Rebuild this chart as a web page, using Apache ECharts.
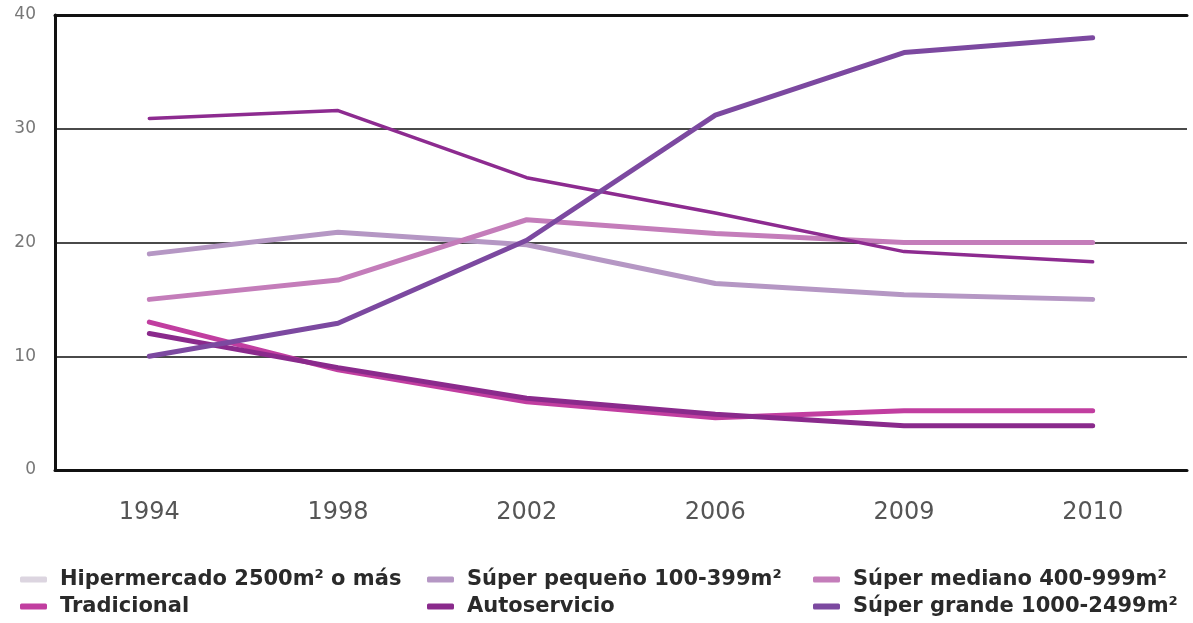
<!DOCTYPE html>
<html>
<head>
<meta charset="utf-8">
<script src="https://cdn.jsdelivr.net/npm/echarts@6/dist/echarts.min.js"></script>
<style>
  html, body { margin: 0; padding: 0; background: #fff; }
  #chart { width: 1193px; height: 623px; }
</style>
</head>
<body>
<div id="chart"></div>
<script>
// Years on the horizontal axis
const years = ['1994', '1998', '2002', '2006', '2009', '2010'];

// Share per store format (%)
const hipermercado = [30.9, 31.6, 25.7, 22.6, 19.2, 18.3];
const superPequeno = [19.0, 20.9, 19.8, 16.4, 15.4, 15.0];
const superMediano = [15.0, 16.7, 22.0, 20.8, 20.0, 20.0];
const tradicional  = [13.0, 8.8, 6.0, 4.6, 5.2, 5.2];
const autoservicio = [12.0, 9.0, 6.3, 4.9, 3.9, 3.9];
const superGrande  = [10.0, 12.9, 20.2, 31.2, 36.7, 38.0];

// Value axis ticks
const yMin = 0, yMax = 40, yStep = 10;

const names = {
  hiper: 'Hipermercado 2500m² o más',
  peq: 'Súper pequeño 100-399m²',
  med: 'Súper mediano 400-999m²',
  trad: 'Tradicional',
  auto: 'Autoservicio',
  grande: 'Súper grande 1000-2499m²'
};

const colors = {
  hiperLegend: '#dcd5e0',
  hiperLine: '#8d2b90',
  peq: '#b597c4',
  med: '#c47dba',
  trad: '#c13ea0',
  auto: '#8a2a8c',
  grande: '#7c49a0'
};

const FONT = 'DejaVu Sans';

function line(name, data, color, width) {
  return {
    name: name,
    type: 'line',
    data: data,
    symbol: 'none',
    smooth: false,
    lineStyle: { color: color, width: width, cap: 'round' },
    itemStyle: { color: color }
  };
}

const legendBase = {
  orient: 'vertical',
  top: 564,
  itemGap: 6,
  itemWidth: 27,
  itemHeight: 6,
  icon: 'roundRect',
  selectedMode: false,
  textStyle: { fontFamily: FONT, fontSize: 21, fontWeight: 'bold', color: '#2a2a2a', padding: [0, 0, 0, 8] }
};

const chart = echarts.init(document.getElementById('chart'));
chart.setOption({
  animation: false,
  grid: { left: 55, right: 6, top: 15, bottom: 153 },
  legend: [
    Object.assign({}, legendBase, { left: 15, data: [
      { name: names.hiper, itemStyle: { color: colors.hiperLegend } },
      { name: names.trad }
    ] }),
    Object.assign({}, legendBase, { left: 422, data: [
      { name: names.peq }, { name: names.auto }
    ] }),
    Object.assign({}, legendBase, { left: 808, data: [
      { name: names.med }, { name: names.grande }
    ] })
  ],
  xAxis: [
    {
      type: 'category',
      data: years,
      boundaryGap: true,
      axisLine: { show: true, lineStyle: { color: '#111', width: 3 } },
      axisTick: { show: false },
      axisLabel: { margin: 31, fontFamily: FONT, fontSize: 24, color: '#555' }
    },
    {
      type: 'category',
      data: years,
      position: 'top',
      boundaryGap: true,
      axisLine: { show: true, lineStyle: { color: '#111', width: 3 } },
      axisTick: { show: false },
      axisLabel: { show: false }
    }
  ],
  yAxis: {
    type: 'value',
    min: yMin, max: yMax, interval: yStep,
    axisLine: { show: true, lineStyle: { color: '#111', width: 3 } },
    axisTick: { show: false },
    axisLabel: { margin: 19, fontFamily: FONT, fontSize: 17, color: '#777' },
    splitLine: { show: true, lineStyle: { color: '#4a4a4a', width: 2 } }
  },
  series: [
    line(names.peq, superPequeno, colors.peq, 5),
    line(names.med, superMediano, colors.med, 5),
    line(names.hiper, hipermercado, colors.hiperLine, 3.5),
    line(names.trad, tradicional, colors.trad, 5),
    line(names.auto, autoservicio, colors.auto, 5),
    line(names.grande, superGrande, colors.grande, 5)
  ]
});
</script>
</body>
</html>
